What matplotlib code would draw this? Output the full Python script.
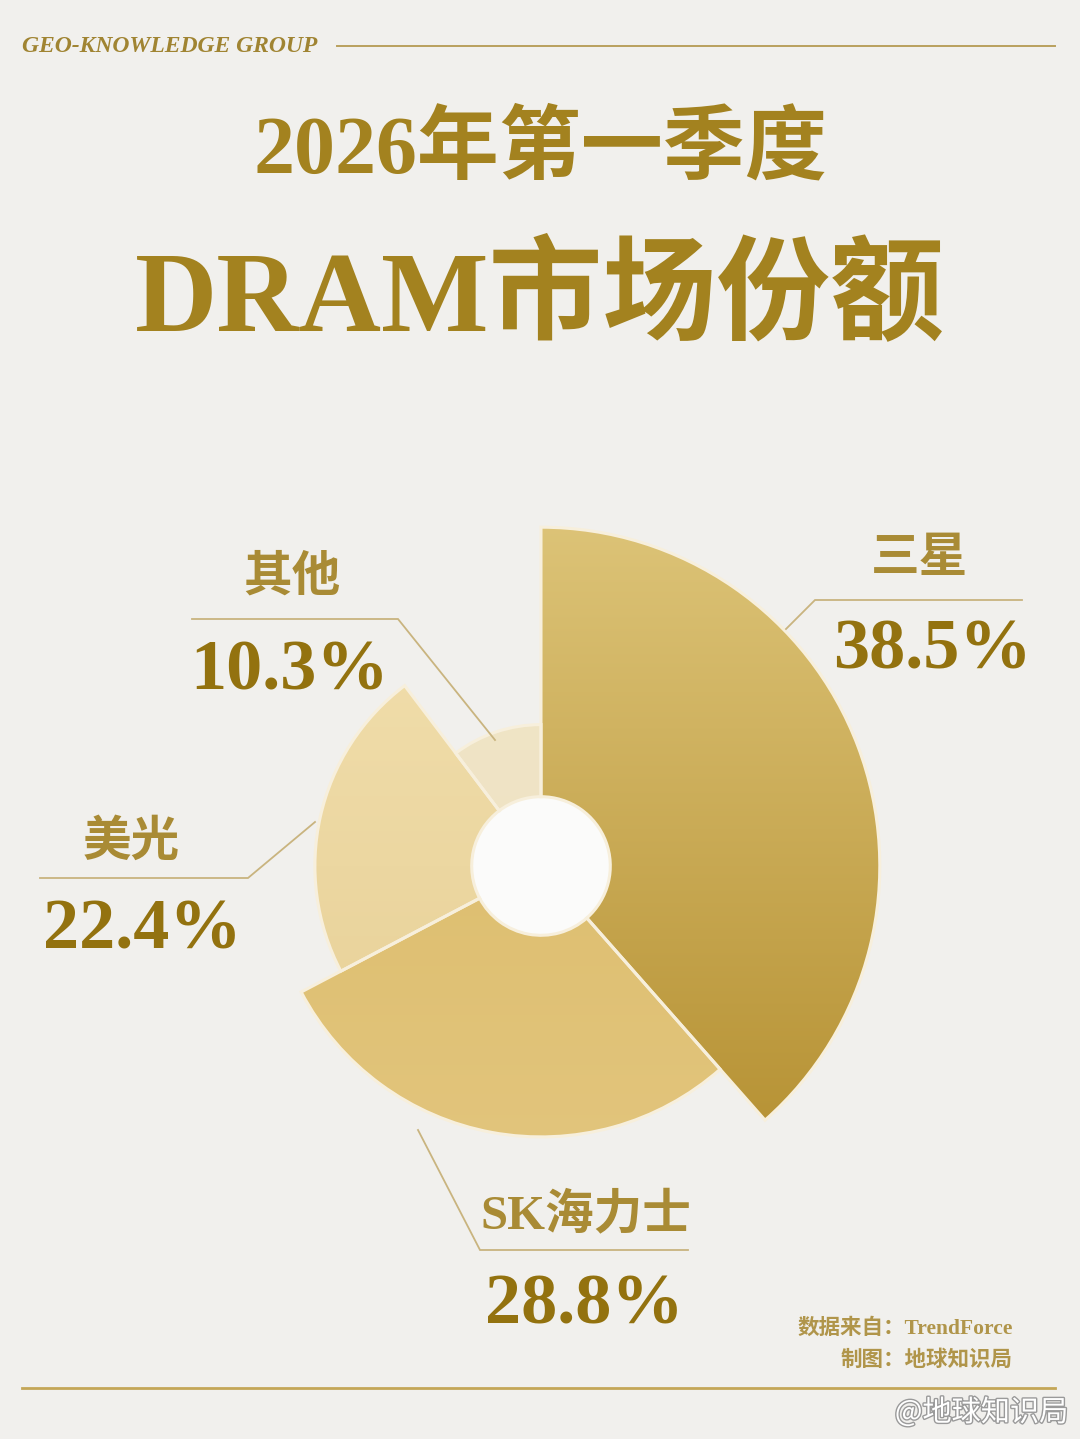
import numpy as np
import matplotlib
matplotlib.use('Agg')
import matplotlib.pyplot as plt
import matplotlib.patheffects as pe
from matplotlib.colors import to_rgb

# ── Data ──────────────────────────────────────────────────────────────────────
COMPANIES = ['三星', 'SK海力士', '美光', '其他']
SHARES    = [38.5, 28.8, 22.4, 10.3]

# ── Style ─────────────────────────────────────────────────────────────────────
BG        = '#f1f0ed'
GOLD      = '#a3821f'
GOLD_DARK = '#93720f'
GOLD_LBL  = '#a98b35'
LEADER    = '#c9b47f'
GRADIENTS = [('#ddc478', '#b28c2c'),   # Samsung
             ('#d9b862', '#e3c67f'),   # SK hynix
             ('#f3e1b0', '#e5cd92'),   # Micron
             ('#f1e6c9', '#ede0bf')]   # others
HOLE      = 9.9      # inner radius, same unit as the shares
RMAX      = 50

W, H = 1080, 1439
CJK = ['Noto Sans CJK SC', 'DejaVu Sans']
SERIF_CJK = ['Liberation Serif', 'Noto Sans CJK SC']

fig = plt.figure(figsize=(W / 100, H / 100), dpi=100, facecolor=BG)

# gradient layer (below), polar chart (middle), annotations (top)
cx, cy, rad = 541, 866, 350
rect = [(cx - rad) / W, (H - cy - rad) / H, 2 * rad / W, 2 * rad / H]

gax = fig.add_axes([0, 0, 1, 1], zorder=0)
gax.axis('off')

pax = fig.add_axes(rect, projection='polar', zorder=1)
pax.set_theta_zero_location('N')
pax.set_theta_direction(-1)
pax.set_ylim(0, RMAX)
pax.set_axis_off()
pax.patch.set_alpha(0)

ax = fig.add_axes([0, 0, 1, 1], zorder=2)
ax.set_xlim(0, W)
ax.set_ylim(H, 0)
ax.axis('off')

# ── Rose chart ────────────────────────────────────────────────────────────────
shares = np.array(SHARES)
widths = shares / 100 * 2 * np.pi
starts = np.concatenate([[0], np.cumsum(widths)[:-1]])
bars = pax.bar(starts, shares, width=widths, bottom=HOLE, align='edge',
               facecolor='none', edgecolor='#f7efdc', linewidth=2.2)

# white centre disc
ring = np.linspace(0, 2 * np.pi, 300)
pax.fill_between(ring, 0, HOLE, color='#fbfbfa', zorder=0, lw=0)
pax.set_ylim(0, RMAX)

for bar, (c_top, c_bot) in zip(bars, GRADIENTS):
    t = np.linspace(0, 1, 256)[:, None, None]
    grad = (1 - t) * np.array(to_rgb(c_top)) + t * np.array(to_rgb(c_bot))
    grad = np.repeat(grad, 2, axis=1)
    im = gax.imshow(grad, extent=(0, 1, 0, 1), transform=pax.transAxes,
                    aspect='auto', origin='upper', interpolation='bilinear')
    # clip path in (theta, r) data space, densified so it bends into arcs
    wedge = bar.get_patch_transform().transform_path(bar.get_path())
    im.set_clip_path(wedge.interpolated(200), pax.transData)
gax.set_xlim(0, W)
gax.set_ylim(H, 0)

# ── Header / title ────────────────────────────────────────────────────────────
ax.text(22, 46, 'GEO-KNOWLEDGE GROUP', fontsize=17, style='italic',
        fontweight='bold', family='Liberation Serif', color='#a08432',
        ha='left', va='center')
ax.plot([337, 1055], [46, 46], color='#b9a05e', lw=1.4)

ax.text(540, 152, '2026年第一季度', fontsize=59, fontweight='bold',
        family=SERIF_CJK, color=GOLD, ha='center', va='center')
ax.text(540, 300, 'DRAM市场份额', fontsize=82, fontweight='bold',
        family=SERIF_CJK, color=GOLD, ha='center', va='center')

# ── Labels + leader lines ─────────────────────────────────────────────────────
labels = {
    '三星':    dict(name_xy=(920, 560), pct_xy=(932, 651),
                   line=[(786, 629), (815, 600), (1022, 600)]),
    'SK海力士': dict(name_xy=(586, 1215), pct_xy=(584, 1306),
                   line=[(418, 1130), (480, 1250), (688, 1250)]),
    '美光':    dict(name_xy=(131, 843), pct_xy=(142, 931),
                   line=[(315, 822), (248, 878), (40, 878)]),
    '其他':    dict(name_xy=(292, 578), pct_xy=(290, 672),
                   line=[(495, 740), (398, 619), (192, 619)]),
}
for name, share in zip(COMPANIES, SHARES):
    cfg = labels[name]
    xs, ys = zip(*cfg['line'])
    ax.plot(xs, ys, color=LEADER, lw=1.3, solid_joinstyle='miter')
    ax.text(*cfg['name_xy'], name, fontsize=35, fontweight='bold',
            family=SERIF_CJK, color=GOLD_LBL, ha='center', va='center')
    ax.text(*cfg['pct_xy'], f'{share:.1f}%', fontsize=52, fontweight='bold',
            family='Liberation Serif', color=GOLD_DARK, ha='center',
            va='center')

# ── Footer ────────────────────────────────────────────────────────────────────
ax.text(1013, 1329, '数据来自：TrendForce', fontsize=15.5, fontweight='bold',
        family=SERIF_CJK, color='#b0954a', ha='right', va='center')
ax.text(1013, 1359, '制图：地球知识局', fontsize=15.5, fontweight='bold',
        family=CJK, color='#b0954a', ha='right', va='center')
ax.plot([22, 1055], [1388, 1388], color='#c4a657', lw=2)

ax.text(1068, 1413, '@地球知识局', fontsize=21, family=CJK, color='white',
        ha='right', va='center',
        path_effects=[pe.withStroke(linewidth=2, foreground='#9a9a9a')])

fig.savefig('out.png', dpi=100, facecolor=BG)
